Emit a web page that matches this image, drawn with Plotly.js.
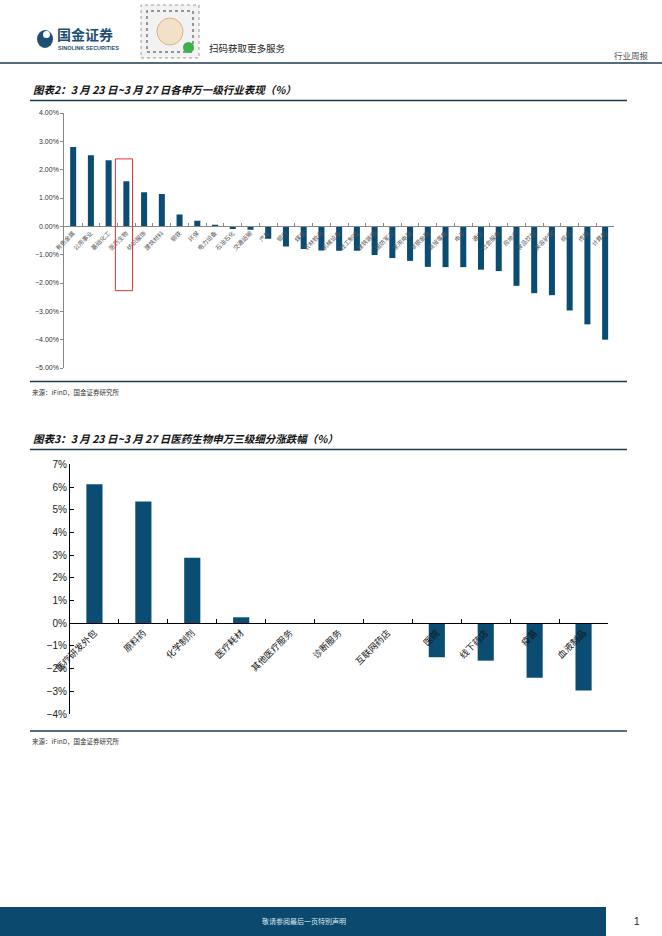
<!DOCTYPE html>
<html>
<head>
<meta charset="utf-8">
<script src="https://cdn.plot.ly/plotly-3.0.1.min.js"></script>
<style>
html,body{margin:0;padding:0;background:#fff;}
#chart{width:662px;height:936px;}
</style>
</head>
<body>
<div id="chart"></div>
<script>
// ---- Data: chart 1 (SW level-1 industries, weekly change %) ----
var industries = ['有色金属','公用事业','基础化工','医药生物','纺织服饰','建筑材料','钢铁','环保','电力设备','石油石化','交通运输','汽车','银行','煤炭','农林牧渔','机械设备','轻工制造','建筑装饰','国防军工','家用电器','非银金融','商贸零售','电子','通信','社会服务','房地产','食品饮料','美容护理','综合','传媒','计算机'];
var industryChange = [2.80,2.51,2.33,1.59,1.20,1.14,0.42,0.20,0.06,-0.09,-0.12,-0.44,-0.71,-0.80,-0.85,-0.86,-0.86,-1.01,-1.12,-1.22,-1.43,-1.44,-1.44,-1.53,-1.58,-2.10,-2.36,-2.43,-2.97,-3.46,-4.00];
var highlightIndustry = '医药生物';

// ---- Data: chart 2 (SW level-3 pharma sub-sectors, weekly change %) ----
var subSectors = ['医疗研发外包','原料药','化学制剂','医疗耗材','其他医疗服务','诊断服务','互联网药店','医院','线下药店','疫苗','血液制品'];
var subChange = [6.12,5.36,2.88,0.26,0,0,0,-1.50,-1.65,-2.40,-2.97];

// ---- Text ----
var title1 = '图表2：3 月 23 日~3 月 27 日各申万一级行业表现（%）';
var title2 = '图表3：3 月 23 日~3 月 27 日医药生物申万三级细分涨跌幅（%）';
var sourceText = '来源：iFinD，国金证券研究所';

var W = 662, H = 936;
function px(x){return x / W;}
function py(y){return 1 - y / H;}

var barColor = '#0b4d72';
var navy = '#1b3b50';
var cjk = '"Noto Sans CJK SC", "Noto Sans", sans-serif';
var latin = '"Liberation Sans", Arial, sans-serif';

var y1Range = [-5, 4], y2Range = [-4, 7];
var y1Dom = [py(368), py(113)], y2Dom = [py(714), py(464.3)];
function zeroPos(dom, r){ return dom[0] + (0 - r[0]) / (r[1] - r[0]) * (dom[1] - dom[0]); }

var traces = [
  {type:'bar', x: industries, y: industryChange, xaxis:'x', yaxis:'y',
   marker:{color: barColor}, width: 0.34, hoverinfo:'none'},
  {type:'bar', x: subSectors, y: subChange, xaxis:'x2', yaxis:'y2',
   marker:{color: barColor}, width: 0.33, hoverinfo:'none'}
];

var hi = industries.indexOf(highlightIndustry);

var shapes = [
  // header line
  {type:'line', xref:'paper', yref:'paper', x0:0, x1:1, y0:py(63), y1:py(63), line:{color:navy, width:1.6}},
  // chart 1 frame lines
  {type:'line', xref:'paper', yref:'paper', x0:px(30), x1:px(627), y0:py(100.5), y1:py(100.5), line:{color:navy, width:1.3}},
  {type:'line', xref:'paper', yref:'paper', x0:px(30), x1:px(627), y0:py(381.5), y1:py(381.5), line:{color:navy, width:1.3}},
  // chart 2 frame lines
  {type:'line', xref:'paper', yref:'paper', x0:px(30), x1:px(627), y0:py(449.5), y1:py(449.5), line:{color:navy, width:1.3}},
  {type:'line', xref:'paper', yref:'paper', x0:px(30), x1:px(627), y0:py(731), y1:py(731), line:{color:navy, width:1.3}},
  // highlight box
  {type:'rect', xref:'x', yref:'y', x0: hi - 0.62, x1: hi + 0.35, y0: 2.38, y1: -2.27,
   line:{color:'#e0312f', width:1}, fillcolor:'rgba(0,0,0,0)'},
  // footer band
  {type:'rect', xref:'paper', yref:'paper', x0:0, x1:px(606), y0:0, y1:py(907), line:{width:0}, fillcolor:'#0b4a6e'},
  // logo circle
  {type:'circle', xref:'paper', yref:'paper', x0:px(37), x1:px(53), y0:py(48), y1:py(30), line:{width:0}, fillcolor:'#1d4f73'},
  {type:'circle', xref:'paper', yref:'paper', x0:px(43), x1:px(50), y0:py(38), y1:py(31), line:{width:0}, fillcolor:'#ffffff'},
  // QR placeholder
  {type:'rect', xref:'paper', yref:'paper', x0:px(141), x1:px(199), y0:py(58), y1:py(5), line:{color:'#9a9a9a', width:1, dash:'dot'}, fillcolor:'#f2f2f2'},
  {type:'rect', xref:'paper', yref:'paper', x0:px(147), x1:px(193), y0:py(52), y1:py(11), line:{color:'#777', width:1.5, dash:'dot'}, fillcolor:'rgba(0,0,0,0)'},
  {type:'circle', xref:'paper', yref:'paper', x0:px(157), x1:px(183), y0:py(45), y1:py(18), line:{color:'#d9b48a', width:1}, fillcolor:'#f3e0c8'},
  {type:'circle', xref:'paper', yref:'paper', x0:px(183), x1:px(194), y0:py(53), y1:py(42), line:{width:0}, fillcolor:'#3cb34a'}
];

var annotations = [
  {text:'国金证券', xref:'paper', yref:'paper', x:px(55), y:py(34), xanchor:'left', yanchor:'middle', showarrow:false,
   font:{family:cjk, size:14, color:'#1d4f73', weight:'bold'}},
  {text:'SINOLINK SECURITIES', xref:'paper', yref:'paper', x:px(55.5), y:py(47.8), xanchor:'left', yanchor:'middle', showarrow:false,
   font:{family:latin, size:5.5, color:'#1d4f73', weight:'bold'}},
  {text:'扫码获取更多服务', xref:'paper', yref:'paper', x:px(207), y:py(48), xanchor:'left', yanchor:'middle', showarrow:false,
   font:{family:cjk, size:9.5, color:'#222'}},
  {text:'行业周报', xref:'paper', yref:'paper', x:px(651), y:py(55), xanchor:'right', yanchor:'middle', showarrow:false,
   font:{family:cjk, size:8.5, color:'#555'}},
  {text:'<b><i>' + title1 + '</i></b>', xref:'paper', yref:'paper', x:px(31), y:py(89), xanchor:'left', yanchor:'middle', showarrow:false,
   font:{family:cjk, size:10.5, color:'#111'}},
  {text: sourceText, xref:'paper', yref:'paper', x:px(30), y:py(392), xanchor:'left', yanchor:'middle', showarrow:false,
   font:{family:cjk, size:6.5, color:'#333'}},
  {text:'<b><i>' + title2 + '</i></b>', xref:'paper', yref:'paper', x:px(31), y:py(438), xanchor:'left', yanchor:'middle', showarrow:false,
   font:{family:cjk, size:10.5, color:'#111'}},
  {text: sourceText, xref:'paper', yref:'paper', x:px(30), y:py(741), xanchor:'left', yanchor:'middle', showarrow:false,
   font:{family:cjk, size:6.5, color:'#333'}},
  {text:'敬请参阅最后一页特别声明', xref:'paper', yref:'paper', x:px(304), y:py(921), xanchor:'center', yanchor:'middle', showarrow:false,
   font:{family:cjk, size:7, color:'#dfe8ee'}},
  {text:'1', xref:'paper', yref:'paper', x:px(637), y:py(921), xanchor:'center', yanchor:'middle', showarrow:false,
   font:{family:latin, size:10, color:'#222'}}
];

var layout = {
  width: W, height: H,
  margin:{l:0, r:0, t:0, b:0},
  paper_bgcolor:'#fff', plot_bgcolor:'rgba(0,0,0,0)',
  showlegend:false,
  xaxis:{domain:[px(64.3), px(614)], anchor:'free', position: zeroPos(y1Dom, y1Range),
    type:'category', range:[-0.5, industries.length - 0.5], tickson:'boundaries',
    ticks:'inside', ticklen:3, tickcolor:'#888', showline:true, linecolor:'#888', linewidth:1,
    tickangle:-45, tickfont:{family:cjk, size:6, color:'#555'}, showgrid:false, zeroline:false, fixedrange:true},
  yaxis:{domain:y1Dom, anchor:'x', range:y1Range, dtick:1, tick0:0, tickformat:'.2f', ticksuffix:'%',
    ticks:'outside', ticklen:3, tickcolor:'#888', showline:true, linecolor:'#888', linewidth:1,
    tickfont:{family:latin, size:7, color:'#333'}, showgrid:false, zeroline:false, fixedrange:true},
  xaxis2:{domain:[px(70), px(608)], anchor:'free', position: zeroPos(y2Dom, y2Range),
    type:'category', range:[-0.5, subSectors.length - 0.5], tickson:'boundaries',
    ticks:'inside', ticklen:4, tickcolor:'#000', showline:true, linecolor:'#000', linewidth:1,
    tickangle:-45, tickfont:{family:cjk, size:9, color:'#111'}, showgrid:false, zeroline:false, fixedrange:true},
  yaxis2:{domain:y2Dom, anchor:'x2', range:y2Range, dtick:1, tick0:0, tickformat:'d', ticksuffix:'%',
    ticks:'inside', ticklen:4, tickcolor:'#000', showline:true, linecolor:'#000', linewidth:1,
    tickfont:{family:latin, size:10, color:'#222'}, showgrid:false, zeroline:false, fixedrange:true},
  shapes: shapes,
  annotations: annotations
};

Plotly.newPlot('chart', traces, layout, {displayModeBar:false, staticPlot:true});
</script>
</body>
</html>
